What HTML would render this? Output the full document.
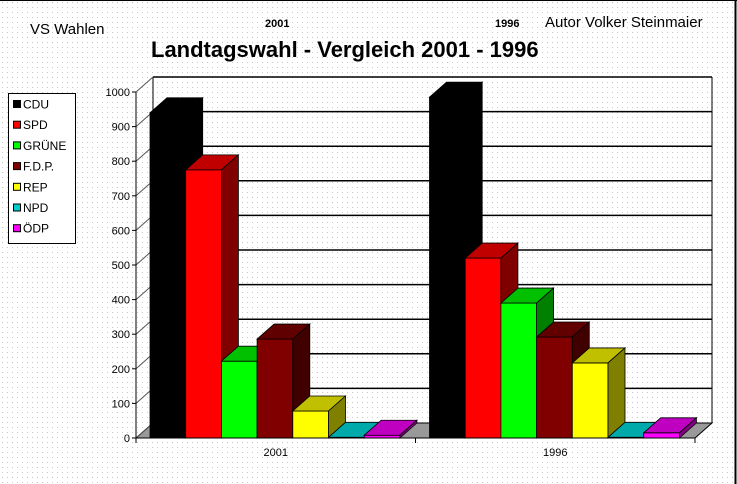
<!DOCTYPE html>
<html><head><meta charset="utf-8"><style>
html,body{margin:0;padding:0;background:#fff}
svg{display:block;font-family:"Liberation Sans",sans-serif}
</style></head><body>
<svg id="c" width="737" height="484" viewBox="0 0 737 484">
<defs><pattern id="dots" width="5" height="5" patternUnits="userSpaceOnUse"><rect width="5" height="5" fill="#fff"/><rect x="2" y="2" width="1" height="1" fill="#c8c8c8"/></pattern></defs>
<rect width="737" height="484" fill="url(#dots)"/>
<line x1="0" y1="0.5" x2="737" y2="0.5" stroke="#000"/>
<line x1="735.5" y1="0" x2="735.5" y2="484" stroke="#000" stroke-width="2"/>
<text x="30" y="34" font-size="15">VS Wahlen</text>
<text x="265" y="27" font-size="11" font-weight="bold">2001</text>
<text x="495" y="27" font-size="11" font-weight="bold">1996</text>
<text x="545" y="27" font-size="15">Autor Volker Steinmaier</text>
<text x="151" y="57" font-size="22" font-weight="bold">Landtagswahl - Vergleich 2001 - 1996</text>
<g id="plot"></g>
<g id="legend"></g>
</svg>
<script>
const categories = ["2001", "1996"];
const parties = ["CDU", "SPD", "GRÜNE", "F.D.P.", "REP", "NPD", "ÖDP"];
const values2001 = [940, 775, 222, 286, 78, 2, 8];
const values1996 = [985, 520, 390, 292, 217, 2, 15];
const yTicks = [0, 100, 200, 300, 400, 500, 600, 700, 800, 900, 1000];
const colors = ["#000000", "#ff0000", "#00ff00", "#800000", "#ffff00", "#00cccc", "#ff00ff"];
const sides = ["#000000", "#800000", "#008000", "#400000", "#808000", "#008080", "#800080"];
const tops = ["#000000", "#c00000", "#00c000", "#600000", "#c0c000", "#00aaaa", "#c000c0"];

const NS = "http://www.w3.org/2000/svg";
const plot = document.getElementById("plot");
const legend = document.getElementById("legend");
const X0 = 136, X1 = 695, Y0 = 438, Y1 = 92, DX = 17, DY = -15;
const y = v => Y0 - (v / 1000) * (Y0 - Y1);
const groupW = (X1 - X0) / categories.length;
const barW = 35.7;
function mk(tag, attrs, parent) {
  const e = document.createElementNS(NS, tag);
  for (const k in attrs) e.setAttribute(k, attrs[k]);
  (parent || plot).appendChild(e);
  return e;
}
// back wall & floor
let w = mk("polygon", {points: `${X0},${Y0} ${X0+DX},${Y0+DY} ${X1+DX},${Y0+DY} ${X1},${Y0}`, fill: "#999", stroke: "#000", "stroke-width": 1});


let lw = mk("line", {x1: X0+DX, y1: y(1000)+DY, x2: X0+DX, y2: Y0+DY, stroke: "#000"});


let rw = mk("line", {x1: X1+DX, y1: y(1000)+DY, x2: X1+DX, y2: Y0+DY, stroke: "#000"});


yTicks.forEach(t => {
  const yy = y(t);
  if (t > 0) {
    const g = mk("line", {x1: X0+DX, y1: yy+DY, x2: X1+DX, y2: yy+DY, stroke: "#000", "stroke-width": 1.5});
    
    
  }
  const d = mk("line", {x1: X0, y1: yy, x2: X0+DX, y2: yy+DY, stroke: "#555"});
  
  
  const tk = mk("line", {x1: X0-4, y1: yy, x2: X0, y2: yy, stroke: "#000"});
  
  
  const lb = mk("text", {x: X0-6, y: yy+4, "font-size": 11, "text-anchor": "end"});
  lb.textContent = t;
  
  
});
let ya = mk("line", {x1: X0, y1: Y0, x2: X0, y2: Y1, stroke: "#000"});


const series = [values2001, values1996];
categories.forEach((c, gi) => {
  const gx = X0 + gi * groupW + 14;
  series[gi].forEach((v, i) => {
    const x = gx + i * barW, top = y(v);
    const fr = mk("rect", {x: x, y: top, width: barW, height: Y0 - top, fill: colors[i], stroke: "#000", "stroke-width": 0.8});
    
    
    const tp = mk("polygon", {points: `${x},${top} ${x+DX},${top+DY} ${x+barW+DX},${top+DY} ${x+barW},${top}`, fill: tops[i], stroke: "#000", "stroke-width": 0.8});
    
    
    const sd = mk("polygon", {points: `${x+barW},${top} ${x+barW+DX},${top+DY} ${x+barW+DX},${Y0+DY} ${x+barW},${Y0}`, fill: sides[i], stroke: "#000", "stroke-width": 0.8});
    
    
  });
  const lab = mk("text", {x: X0 + gi * groupW + groupW / 2, y: 456, "font-size": 11, "text-anchor": "middle"});
  lab.textContent = c;
  
  
});
let xa = mk("line", {x1: X0, y1: Y0, x2: X1, y2: Y0, stroke: "#000"});


[0, 1, 2].forEach(k => {
  const t = mk("line", {x1: X0 + k * groupW, y1: Y0, x2: X0 + k * groupW, y2: Y0 + 5, stroke: "#000"});
  
  
});
// legend
const lb = mk("rect", {x: 8.5, y: 93.5, width: 67, height: 150, fill: "#fff", stroke: "#000"}, legend);


parties.forEach((p, i) => {
  const yy = 104 + i * 20.7;
  const sw = mk("rect", {x: 13.5, y: yy - 3.5, width: 7, height: 7, fill: colors[i], stroke: "#000"}, legend);
  
  
  const t = mk("text", {x: 23, y: yy + 4.5, "font-size": 12}, legend);
  t.textContent = p;
  
  
});
</script>
</body></html>
